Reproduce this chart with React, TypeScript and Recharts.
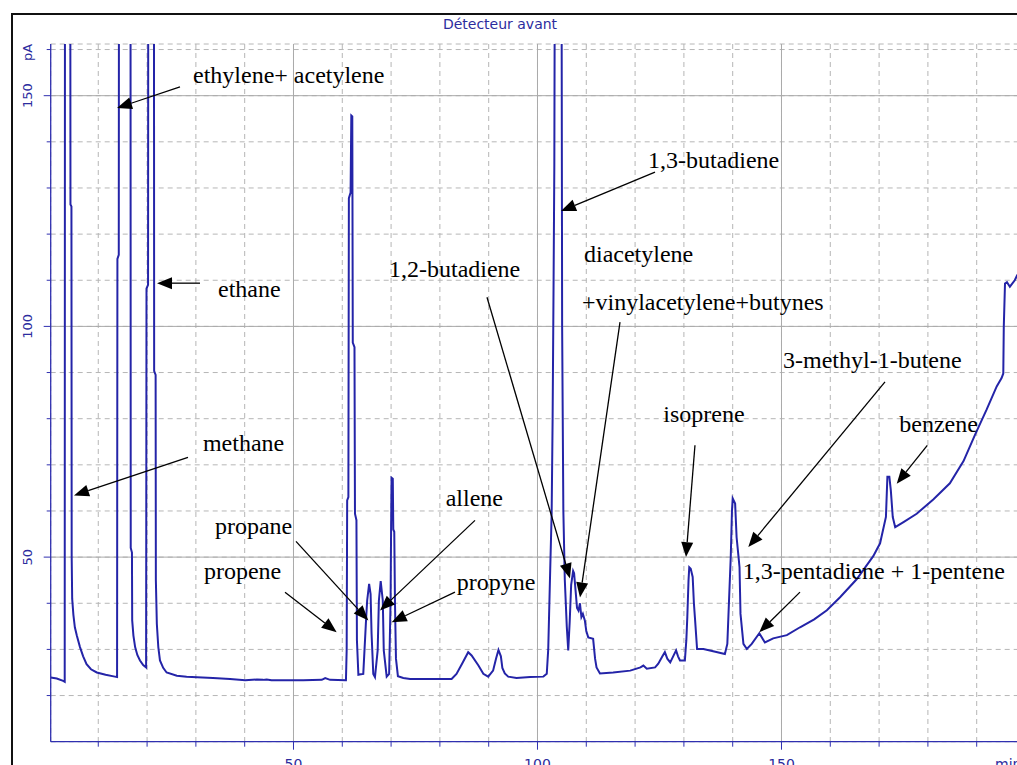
import React from 'react';
import { LineChart, Line, XAxis, YAxis, CartesianGrid, ReferenceLine, ReferenceDot } from 'recharts';

// retention time (min), signal (pA)
const c1c2Region: [number, number][] = [
  [0.25, 23.9], [1.5, 23.7], [2.8, 23.2], [3.12, 23.0], [3.18, 200], [4.25, 200], [4.3, 126.4], [4.5, 126],
  [4.55, 50], [4.65, 41], [4.9, 37.5], [5.2, 34.8], [5.6, 33], [6.25, 30.5], [6.9, 28.5], [7.6, 26.8],
  [8.5, 25.7], [9.7, 25.0], [11.5, 24.5], [13.4, 24.1], [13.85, 24.0],
  [13.92, 114.6], [14.2, 115.5], [14.25, 200], [16.6, 200], [16.65, 52], [16.9, 51], [16.95, 36.3],
  [17.2, 33], [17.55, 30.5], [18.0, 28.8], [18.55, 27.6], [19.2, 26.6], [19.8, 26.1],
  [19.88, 108.2], [20.2, 109], [20.25, 200], [21.4, 200], [21.45, 90.3], [21.75, 89.5], [21.8, 45],
  [22.0, 35.5], [22.3, 30.5], [22.64, 27.6], [23.3, 26], [24.0, 25.0], [26.1, 24.3], [28.1, 24.1],
  [33.5, 23.8], [37.0, 23.6], [40.1, 23.3], [42.5, 23.5], [43.8, 23.4], [44.5, 23.5], [45.5, 23.3],
  [52.0, 23.3], [55.8, 23.4], [56.5, 23.8], [57.5, 23.4], [60.7, 23.3],
];

const c3Region: [number, number][] = [
  [60.75, 23.3], [60.9, 30], [61.0, 62.3], [61.25, 63], [61.35, 127.8], [61.7, 129], [61.85, 145.7],
  [62.05, 145.5], [62.15, 96.5], [62.5, 95.5], [62.6, 59.4], [62.9, 58], [63.0, 32], [63.3, 24.5],
  [63.8, 24.6], [64.3, 24.7], [64.9, 37], [65.1, 40.6], [65.5, 44.2], [65.8, 42], [66.0, 33.4],
  [66.35, 24.7], [66.7, 24.0], [67.25, 29.8], [67.5, 40.6], [67.87, 44.8], [68.3, 40.6], [68.5, 29.8],
  [69.1, 24.1], [69.6, 24.7], [69.9, 40.6], [70.0, 55.8], [70.1, 67.2], [70.35, 67], [70.45, 56],
  [70.65, 55.5], [70.8, 40], [71.0, 28], [71.4, 24.2], [72.5, 23.8], [73.9, 23.6], [78.0, 23.6], [82.4, 23.6],
];

const midBumps: [number, number][] = [
  [83.4, 24.7], [84.6, 27], [85.8, 29.4], [86.5, 28.7], [87.9, 26.5], [88.9, 24.7], [89.9, 24.1],
  [90.9, 25.4], [91.5, 28], [92.0, 29.9], [92.5, 28.5], [92.8, 26], [93.3, 24.8], [94.0, 24.1],
  [95.7, 23.8], [98.5, 24.0], [101.2, 24.1],
];

const c4Region: [number, number][] = [
  [101.9, 24.7], [102.2, 30], [102.6, 47], [102.9, 59.4], [103.1, 80], [103.3, 110], [103.45, 135],
  [103.6, 200], [104.9, 200], [105.05, 100], [105.3, 60], [105.6, 45], [106.0, 35], [106.3, 29.8],
  [106.6, 36], [106.9, 44], [107.3, 47], [107.5, 46.5], [107.8, 42.8], [108.1, 39], [108.4, 38.4],
  [108.7, 40], [109.0, 37], [109.3, 37.7], [109.7, 36.3], [110.0, 34], [110.4, 32.6], [111.4, 32.3],
  [111.8, 28], [112.1, 26.1], [112.8, 24.8], [115.5, 25.0], [119.0, 25.4], [121.1, 26.1], [121.7, 26.5],
  [122.4, 25.8], [124.1, 26.1], [124.75, 26.9], [125.6, 28.5], [126.1, 29.4], [126.6, 28], [127.2, 27.2],
  [127.8, 28.5], [128.4, 29.8], [128.8, 28.5], [129.2, 27.6], [130.2, 27.6],
];

const c5Region: [number, number][] = [
  [130.5, 32], [130.7, 37], [130.95, 45], [131.1, 47.8], [131.4, 47.5], [131.8, 45.7], [132.05, 40],
  [132.3, 36.3], [132.7, 30.1], [134.0, 30.1], [136.0, 29.6], [138.4, 29.0], [138.9, 31.2], [139.3, 42],
  [139.6, 50], [139.85, 60], [140.0, 62.7], [140.5, 61.6], [140.8, 54.3], [141.2, 50], [141.4, 47.8],
  [141.6, 37.7], [142.2, 31.2], [142.9, 30.1], [143.9, 31.2], [145.45, 33.5], [146.6, 31.5],
  [148.3, 32.4], [151.1, 33.1], [153.8, 34.8], [156.7, 36.5], [159.3, 38.5], [162.0, 41.3],
  [165.4, 45.2], [168.8, 50.2], [170.2, 53], [171.4, 58.7], [171.7, 67.4], [172.1, 67.4], [172.4, 64.5],
  [172.8, 58.7], [173.3, 56.5], [175.0, 57.6], [177.7, 59.4], [181.1, 62.5], [184.5, 66], [187.3, 70.8],
  [189.65, 76.5], [192.05, 82], [194.1, 87], [195.1, 88.8], [195.45, 89.8], [195.55, 99.9],
  [195.8, 109.3], [196.2, 109.6], [196.8, 108.6], [197.8, 110], [198.3, 111.1], [200, 112.5],
];

const chromatogram = [...c1c2Region, ...c3Region, ...midBumps, ...c4Region, ...c5Region].map(
  ([t, v]) => ({ t, v })
);

const xTicks = [10, 20, 30, 40, 50, 60, 70, 80, 90, 100, 110, 120, 130, 140, 150, 160, 170, 180, 190];
const xTickLabels = [50, 100, 150];
const yTicks = [20, 30, 40, 50, 60, 70, 80, 90, 100, 110, 120, 130, 140, 150, 160];
const yTickLabels = [50, 100, 150];
const yUnitTick = 160;
const majorGrid = [50, 100, 150];

const annotationTexts = [
  'ethylene+ acetylene', 'ethane', 'methane', 'propane', 'propene', 'allene', 'propyne',
  '1,3-butadiene', '1,2-butadiene', 'diacetylene', '+vinylacetylene+butynes', 'isoprene',
  '3-methyl-1-butene', 'benzene', '1,3-pentadiene + 1-pentene',
];
// text anchor (min, pA): left end of baseline
const annotationAnchors: [number, number][] = [
  [29.41, 152.75], [34.53, 106.3], [31.45, 73.1], [33.91, 54.92], [31.66, 45.2], [81.19, 61.0],
  [83.44, 42.78], [122.64, 134.32], [69.57, 110.67], [109.53, 113.93], [109.12, 103.51],
  [125.78, 79.28], [150.31, 90.93], [174.14, 77.11], [142.05, 45.31],
];
// arrows (min, pA): tail -> head
const arrowSegments: [number, number, number, number][] = [
  [26.74, 151.89, 13.83, 147.33],
  [30.84, 109.37, 22.03, 109.37],
  [28.38, 71.63, 5.02, 63.38],
  [50.51, 53.41, 65.33, 36.27],
  [48.26, 42.41, 58.85, 33.73],
  [87.19, 57.96, 67.73, 38.44],
  [83.09, 42.41, 70.12, 35.9],
  [124.08, 133.45, 104.82, 124.99],
  [89.65, 106.33, 106.66, 45.38],
  [116.91, 100.91, 108.71, 41.26],
  [132.27, 74.23, 130.43, 50.0],
  [171.21, 87.96, 143.2, 52.17],
  [179.88, 74.23, 173.61, 65.92],
  [153.79, 42.41, 145.45, 33.73],
];

const TRACE = '#2424a8';
const AXIS = '#3030b0';
const LABEL = '#2c2c9e';
const GRID = '#b6b6b6';
const SANS = '"DejaVu Sans", Verdana, sans-serif';
const SERIF = '"Liberation Serif", "Times New Roman", serif';

const XTick = (props: any) => {
  const { x, y, payload } = props;
  const major = xTickLabels.includes(payload.value);
  return (
    <g>
      <line x1={x} y1={y} x2={x} y2={y + (major ? 8 : 5)} stroke={AXIS} strokeWidth={1} />
      {major && (
        <text x={x} y={y + 26.8} textAnchor="middle" fontSize={14} fontFamily={SANS} fill={LABEL}>
          {payload.value}
        </text>
      )}
    </g>
  );
};

const YTick = (props: any) => {
  const { x, y, payload } = props;
  const v = payload.value;
  const major = yTickLabels.includes(v);
  const unit = v === yUnitTick;
  const len = major ? 7 : 4;
  const tx = x - 18.4;
  const ty = unit ? y + 3 : y;
  return (
    <g>
      <line x1={x - len} y1={y} x2={x} y2={y} stroke={AXIS} strokeWidth={1} />
      {(major || unit) && (
        <text
          x={tx}
          y={ty}
          transform={`rotate(-90 ${tx} ${ty})`}
          textAnchor="middle"
          fontSize={13}
          fontFamily={SANS}
          fill={LABEL}
        >
          {unit ? 'pA' : v}
        </text>
      )}
    </g>
  );
};

const Arrow = (props: any) => {
  const { x1, y1, x2, y2 } = props;
  const dx = x2 - x1;
  const dy = y2 - y1;
  const L = Math.hypot(dx, dy) || 1;
  const ux = dx / L;
  const uy = dy / L;
  const hl = 15;
  const hw = 6;
  const bx = x2 - ux * hl;
  const by = y2 - uy * hl;
  return (
    <g>
      <line x1={x1} y1={y1} x2={bx} y2={by} stroke="#000" strokeWidth={1.3} />
      <polygon
        points={`${x2},${y2} ${bx - uy * hw},${by + ux * hw} ${bx + uy * hw},${by - ux * hw}`}
        fill="#000"
      />
    </g>
  );
};

export default function App() {
  return (
    <div
      style={{
        position: 'fixed',
        left: 0,
        top: 0,
        width: 1017,
        height: 765,
        overflow: 'hidden',
        background: '#fff',
      }}
    >
      <div
        style={{
          position: 'absolute',
          left: 11,
          top: 13,
          width: 1200,
          height: 900,
          borderLeft: '2px solid #111',
          borderTop: '2px solid #111',
        }}
      />
      <div style={{ position: 'absolute', left: 0, top: 0 }}>
        <LineChart
          width={1050}
          height={790}
          data={chromatogram}
          margin={{ top: 44, right: 24.5, bottom: 18.3, left: 10.7 }}
        >
          <CartesianGrid stroke={GRID} strokeDasharray="5 4" />
          {majorGrid.map((g) => (
            <ReferenceLine key={`vx${g}`} x={g} stroke="#aaaaaa" strokeWidth={1} />
          ))}
          {majorGrid.map((g) => (
            <ReferenceLine key={`hy${g}`} y={g} stroke="#aaaaaa" strokeWidth={1} />
          ))}
          <XAxis
            type="number"
            dataKey="t"
            domain={[0.25, 200]}
            ticks={xTicks}
            interval={0}
            allowDataOverflow
            height={30}
            tickSize={0}
            tickMargin={0}
            tickLine={false}
            axisLine={{ stroke: AXIS, strokeWidth: 1.3 }}
            tick={XTick}
          />
          <YAxis
            type="number"
            domain={[10, 161.2]}
            ticks={yTicks}
            interval={0}
            allowDataOverflow
            width={40}
            tickSize={0}
            tickMargin={0}
            tickLine={false}
            axisLine={{ stroke: AXIS, strokeWidth: 1.3 }}
            tick={YTick}
          />
          <Line
            type="linear"
            dataKey="v"
            stroke={TRACE}
            strokeWidth={2}
            dot={false}
            activeDot={false}
            isAnimationActive={false}
          />
          {arrowSegments.map(([a, b, c, d], i) => (
            <ReferenceLine
              key={`arrow${i}`}
              segment={[
                { x: a, y: b },
                { x: c, y: d },
              ]}
              shape={Arrow}
            />
          ))}
          {annotationTexts.map((txt, i) => (
            <ReferenceDot
              key={`txt${i}`}
              x={annotationAnchors[i][0]}
              y={annotationAnchors[i][1]}
              r={0}
              shape={(p: any) => (
                <text x={p.cx} y={p.cy} fontFamily={SERIF} fontSize={24} fill="#000">
                  {txt}
                </text>
              )}
            />
          ))}
        </LineChart>
      </div>
      <svg
        width={1017}
        height={765}
        style={{ position: 'absolute', left: 0, top: 0, pointerEvents: 'none' }}
      >
        <text x={500} y={29.3} textAnchor="middle" fontSize={14} fontFamily={SANS} fill={LABEL}>
          Détecteur avant
        </text>
        <text x={995} y={768.5} fontSize={14} fontFamily={SANS} fill={LABEL}>
          min
        </text>
      </svg>
    </div>
  );
}
